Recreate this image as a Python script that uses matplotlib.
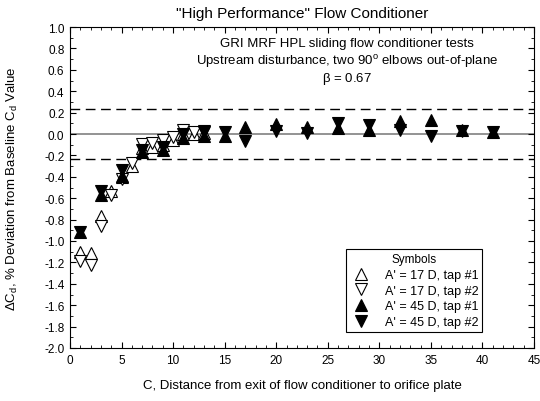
import matplotlib
matplotlib.use("Agg")
import matplotlib.pyplot as plt
from matplotlib.ticker import MultipleLocator
from matplotlib.lines import Line2D

plt.rcParams['font.family'] = ['Liberation Sans', 'DejaVu Sans']
plt.rcParams['mathtext.fontset'] = 'custom'
plt.rcParams['mathtext.rm'] = 'Liberation Sans'
plt.rcParams['mathtext.it'] = 'Liberation Sans'

# A' = 17 D (open symbols)
x17 = [1, 2, 3, 4, 5, 6, 7, 8, 9, 10, 11, 12, 13]
y17_tap1 = [-1.10, -1.11, -0.77, -0.53, -0.40, -0.30, -0.13, -0.12, -0.10, -0.06, 0.00, 0.00, 0.01]
y17_tap2 = [-1.19, -1.22, -0.86, -0.57, -0.42, -0.27, -0.09, -0.08, -0.06, -0.03, 0.04, 0.02, 0.03]
# A' = 45 D (filled symbols)
x45 = [1, 3, 5, 7, 9, 11, 13, 15, 17, 20, 23, 26, 29, 32, 35, 38, 41]
y45_tap1 = [-0.92, -0.57, -0.39, -0.17, -0.15, -0.04, -0.02, -0.02, 0.07, 0.09, 0.066, 0.06, 0.04, 0.12, 0.135, 0.04, 0.02]
y45_tap2 = [-0.92, -0.53, -0.34, -0.15, -0.12, 0.00, 0.02, 0.02, -0.07, 0.025, 0.013, 0.10, 0.08, 0.04, -0.02, 0.03, 0.02]

band = 0.23

fig = plt.figure(figsize=(5.4, 4.02), dpi=100)
ax = fig.add_axes([70/540, 1-349/402, (534-70)/540, (349-28)/402])

ms = 9
ax.axhline(0, color='#808080', lw=1.2, zorder=1)
ax.axhline(band, color='black', lw=1, ls=(0, (7, 4)), zorder=1)
ax.axhline(-band, color='black', lw=1, ls=(0, (7, 4)), zorder=1)

ax.plot(x17, y17_tap1, ls='none', marker='^', ms=ms, mfc='white', mec='black', mew=0.8, zorder=3)
ax.plot(x17, y17_tap2, ls='none', marker='v', ms=ms, mfc='white', mec='black', mew=0.8, zorder=3)
ax.plot(x45, y45_tap1, ls='none', marker='^', ms=ms, mfc='black', mec='black', mew=0.8, zorder=4)
ax.plot(x45, y45_tap2, ls='none', marker='v', ms=ms, mfc='black', mec='black', mew=0.8, zorder=4)

ax.set_xlim(0, 45)
ax.set_ylim(-2.0, 1.0)
ax.xaxis.set_major_locator(MultipleLocator(5))
ax.xaxis.set_minor_locator(MultipleLocator(1))
ax.yaxis.set_major_locator(MultipleLocator(0.2))
ax.yaxis.set_minor_locator(MultipleLocator(0.1))
ax.tick_params(which='both', direction='in', top=True, right=True, labelsize=8.5, pad=4)
ax.tick_params(which='major', length=4)
ax.tick_params(which='minor', length=2)
ax.set_yticklabels([f"{v:.1f}" for v in ax.get_yticks()])
ax.set_xticks(range(0, 46, 5))
ax.set_xticklabels([str(v) for v in range(0, 46, 5)])

ax.set_title('"High Performance" Flow Conditioner', fontsize=11, pad=7)
ax.set_xlabel('C, Distance from exit of flow conditioner to orifice plate', fontsize=9.5, labelpad=10)
ax.set_ylabel(r'$\Delta$C$_d$, % Deviation from Baseline C$_d$ Value', fontsize=9.5, labelpad=17)

ax.text(0.597, 0.950, 'GRI MRF HPL sliding flow conditioner tests', transform=ax.transAxes,
        ha='center', va='center', fontsize=9.5)
ax.text(0.597, 0.896, r'Upstream disturbance, two 90$^{\rm o}$ elbows out-of-plane', transform=ax.transAxes,
        ha='center', va='center', fontsize=9.5)
ax.text(0.597, 0.842, r'$\beta$ = 0.67', transform=ax.transAxes,
        ha='center', va='center', fontsize=9.5)

handles = [
    Line2D([], [], ls='none', marker='^', ms=ms, mfc='white', mec='black', mew=0.8),
    Line2D([], [], ls='none', marker='v', ms=ms, mfc='white', mec='black', mew=0.8),
    Line2D([], [], ls='none', marker='^', ms=ms, mfc='black', mec='black', mew=0.8),
    Line2D([], [], ls='none', marker='v', ms=ms, mfc='black', mec='black', mew=0.8),
]
labels = ["A' = 17 D, tap #1", "A' = 17 D, tap #2", "A' = 45 D, tap #1", "A' = 45 D, tap #2"]
leg = ax.legend(handles, labels, title='Symbols', loc='lower right', bbox_to_anchor=(0.888, 0.05),
                fontsize=9, title_fontsize=8.5, frameon=True, fancybox=False, edgecolor='black',
                framealpha=1, borderpad=0.3, labelspacing=0.3, handletextpad=1.0, handlelength=1.8,
                borderaxespad=0)
leg.get_frame().set_linewidth(0.8)

fig.savefig('out.png', dpi=100)
